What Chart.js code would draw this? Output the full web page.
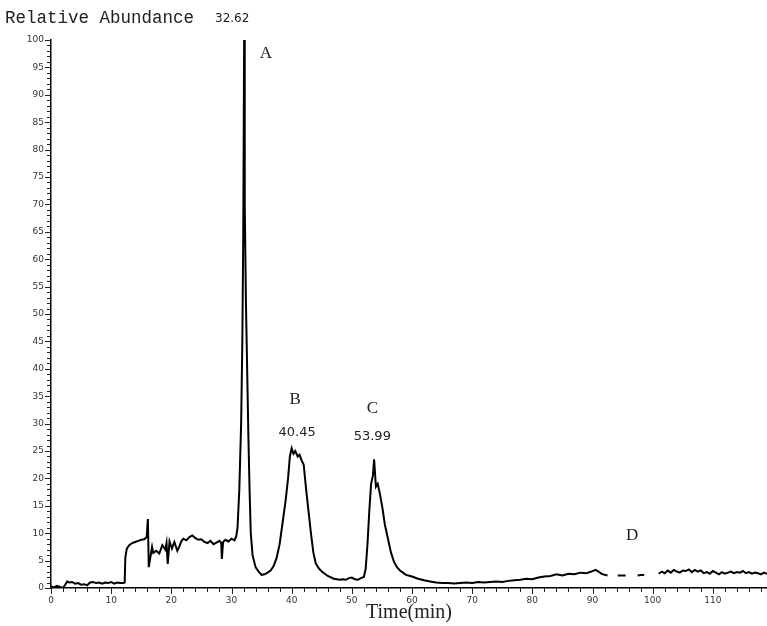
<!DOCTYPE html>
<html>
<head>
<meta charset="utf-8">
<script src="https://cdn.jsdelivr.net/npm/chart.js@4/dist/chart.umd.min.js"></script>
<style>
  html, body { margin: 0; padding: 0; background: #fff; }
  #wrap { width: 767px; height: 626px; }
</style>
</head>
<body>
<div id="wrap"><canvas id="chrom"></canvas></div>
<script>
// retention time (min) and relative abundance (%); null = gap in trace
const times = [
  0, 0.5, 1, 1.5, 2, 2.3, 2.7, 3, 3.5, 4, 4.5, 5, 5.5, 6, 6.5, 7, 7.5, 8, 8.5, 9, 9.5, 10, 10.5, 11, 11.5, 12, 12.25,
  12.35, 12.6, 13, 13.5, 14, 14.5, 15, 15.5, 15.9, 16.1, 16.25, 16.5, 16.8, 17, 17.5, 18, 18.5, 19, 19.2, 19.4, 19.7,
  20.1, 20.5, 21, 21.3, 21.7, 22, 22.5, 23, 23.5, 24, 24.5, 25, 25.5, 26, 26.5, 27, 27.5, 28, 28.3, 28.4, 28.6, 29,
  29.5, 30, 30.5, 30.8, 31, 31.3, 31.6, 31.8, 31.95, 32.1, 32.2, 32.4, 32.6, 32.8, 33, 33.2, 33.5, 34, 34.5, 35,
  35.5, 36, 36.5, 37, 37.5, 38, 38.5, 39, 39.4, 39.7, 40, 40.3, 40.6, 41, 41.3, 41.7, 42, 42.4, 42.8, 43.2, 43.6,
  44, 44.5, 45, 46, 47, 47.5, 48, 48.5, 49, 49.5, 50, 50.5, 51, 51.5, 52, 52.3, 52.6, 52.9, 53.2, 53.5, 53.7, 54,
  54.3, 54.7, 55.1, 55.5, 56, 56.5, 57, 57.5, 58, 58.5, 59, 60, 61, 62, 63, 64, 65, 66, 67, 68, 69, 70, 71, 72, 73,
  74, 75, 76, 77, 78, 79, 80, 81, 82, 83, 84, 85, 86, 87, 88, 89, 89.8, 90.5, 91, 91.5, 92, 92.5, 93.4, 94.2, 95.0,
  95.5, 96.7, 97.5, 98.3, 98.6, 100.5, 101, 101.5, 102, 102.5, 103, 103.5, 104, 104.5, 105, 105.5, 106,
  106.5, 107, 107.5, 108, 108.5, 109, 109.5, 110, 110.5, 111, 111.5, 112, 112.5, 113, 113.5, 114, 114.5, 115, 115.5,
  116, 116.5, 117, 117.5, 118, 118.5, 119
];
const abundance = [
  0.3, 0.1, 0.4, 0.2, 0.0, 0.5, 1.2, 1.0, 1.1, 0.8, 0.9, 0.6, 0.7, 0.5, 1.0, 1.1, 0.9, 1.0, 0.8, 1.0, 0.9, 1.1, 0.8, 1.0, 0.9, 0.9, 1.0,
  5.5, 7.2, 7.8, 8.2, 8.4, 8.6, 8.8, 8.9, 9.3, 12.6, 3.8, 5.5, 7.5, 6.4, 6.8, 6.3, 7.8, 7.0, 8.2, 4.4, 8.5,
  7.2, 8.4, 6.8, 7.5, 8.6, 9.0, 8.7, 9.3, 9.6, 9.1, 8.8, 8.9, 8.4, 8.2, 8.6, 8.0, 8.3, 8.6, 8.2, 5.3, 8.4, 8.8,
  8.5, 9.0, 8.7, 9.5, 11, 18, 30, 45, 64, 100, 70, 52, 40, 28, 18, 10, 6, 3.8, 3.0, 2.4,
  2.5, 2.8, 3.2, 4.0, 5.5, 8, 12, 16, 20, 24, 25.5, 24.5, 25, 24, 24.3, 23.2, 22.5, 18, 14, 10, 6.5,
  4.5, 3.6, 3.0, 2.2, 1.7, 1.6, 1.5, 1.6, 1.5, 1.8, 1.9, 1.6, 1.5, 1.8, 2.0, 3.5, 8, 14, 19, 20.5, 23.5, 18.5, 19,
  17, 14.5, 11.5, 9, 6.5, 4.8, 3.8, 3.2, 2.8, 2.4, 2.1, 1.7, 1.4, 1.2, 1.0, 0.9, 0.9, 0.8, 0.9, 1.0, 0.9, 1.1, 1.0, 1.1, 1.2,
  1.1, 1.3, 1.4, 1.5, 1.7, 1.6, 1.9, 2.1, 2.2, 2.5, 2.3, 2.6, 2.5, 2.8, 2.7, 3.0, 3.3, 3.0, 2.6, 2.4, 2.3, null, 2.3, 2.3, 2.3,
  null, 2.3, 2.4, 2.3, null, 2.6, 3.0, 2.7, 3.2, 2.8, 3.3, 3.0, 2.8, 3.2, 3.1, 3.4, 2.9,
  3.3, 3.0, 3.2, 2.7, 2.9, 2.6, 3.1, 2.8, 2.5, 2.9, 2.6, 2.8, 3.0, 2.7, 2.9, 2.8, 3.1, 2.7, 2.9,
  2.6, 2.8, 2.7, 2.5, 2.8, 2.6, 2.7
];
const yTicks = [0, 5, 10, 15, 20, 25, 30, 35, 40, 45, 50, 55, 60, 65, 70, 75, 80, 85, 90, 95, 100];
const xTicks = [0, 10, 20, 30, 40, 50, 60, 70, 80, 90, 100, 110];
// peak labels: [text, time, abundance, font]
const peakLabels = [
  ['A', 35.7, 97.6, 'serif'],
  ['B', 40.6, 34.4, 'serif'],
  ['40.45', 40.9, 28.3, 'sans'],
  ['C', 53.4, 32.8, 'serif'],
  ['53.99', 53.4, 27.6, 'sans'],
  ['D', 96.6, 9.5, 'serif']
];

const points = times.map((t, i) => ({ x: t, y: abundance[i] }));

const labelPlugin = {
  id: 'labels',
  afterDraw(chart) {
    const ctx = chart.ctx;
    const xs = chart.scales.x, ys = chart.scales.y;
    const a = chart.chartArea;
    ctx.save();
    // tick marks, minor every 1 % and 2 min
    ctx.strokeStyle = '#222';
    ctx.lineWidth = 1;
    ctx.beginPath();
    for (let v = 0; v <= 100; v++) {
      const py = Math.round(ys.getPixelForValue(v)) + 0.5;
      ctx.moveTo(a.left - (v % 5 === 0 ? 6 : 4), py);
      ctx.lineTo(a.left, py);
    }
    for (let t = 0; t <= 118; t += 2) {
      const px = Math.round(xs.getPixelForValue(t)) + 0.5;
      ctx.moveTo(px, a.bottom);
      ctx.lineTo(px, a.bottom + (t % 10 === 0 ? 6 : 4));
    }
    ctx.stroke();

    ctx.fillStyle = '#222';
    ctx.textAlign = 'center';
    ctx.textBaseline = 'middle';
    peakLabels.forEach(([txt, t, v, kind]) => {
      ctx.font = kind === 'serif' ? '17px "Liberation Serif"' : '13px "DejaVu Sans"';
      ctx.fillText(txt, xs.getPixelForValue(t), ys.getPixelForValue(v));
    });
    // header
    ctx.textAlign = 'left';
    ctx.font = '17.5px "Liberation Mono"';
    ctx.fillText('Relative Abundance', 5, 18);
    ctx.font = '12px "DejaVu Sans"';
    ctx.fillText('32.62', 215, 19);
    // x title
    ctx.textAlign = 'center';
    ctx.font = '20px "Liberation Serif"';
    ctx.fillText('Time(min)', (a.left + a.right) / 2, a.bottom + 25);
    ctx.restore();
  }
};

new Chart(document.getElementById('chrom'), {
  type: 'line',
  data: {
    datasets: [{
      data: points,
      borderColor: '#000',
      borderWidth: 2,
      pointRadius: 0,
      tension: 0,
      spanGaps: false
    }]
  },
  options: {
    responsive: true,
    maintainAspectRatio: false,
    animation: false,
    layout: { padding: { top: 40, right: 0, left: 0, bottom: 0 } },
    plugins: { legend: { display: false }, tooltip: { enabled: false } },
    scales: {
      x: {
        type: 'linear',
        min: 0,
        max: 119,
        afterFit(scale) { scale.height = 38; },
        afterBuildTicks(scale) {
          scale.ticks = xTicks.map(v => ({ value: v }));
        },
        grid: { drawOnChartArea: false, tickLength: 6, tickColor: 'rgba(0,0,0,0)' },
        border: { color: '#000', width: 1.5 },
        ticks: {
          autoSkip: false,
          maxRotation: 0,
          padding: 1,
          color: '#333',
          font: { family: 'DejaVu Sans', size: 9 }
        }
      },
      y: {
        min: 0,
        max: 100,
        afterFit(scale) { scale.width = 51; },
        afterBuildTicks(scale) {
          scale.ticks = yTicks.map(v => ({ value: v }));
        },
        grid: { drawOnChartArea: false, tickLength: 6, tickColor: 'rgba(0,0,0,0)' },
        border: { color: '#000', width: 1.5 },
        ticks: {
          autoSkip: false,
          padding: 1,
          color: '#333',
          font: { family: 'DejaVu Sans', size: 9 }
        }
      }
    }
  },
  plugins: [labelPlugin]
});
</script>
</body>
</html>
